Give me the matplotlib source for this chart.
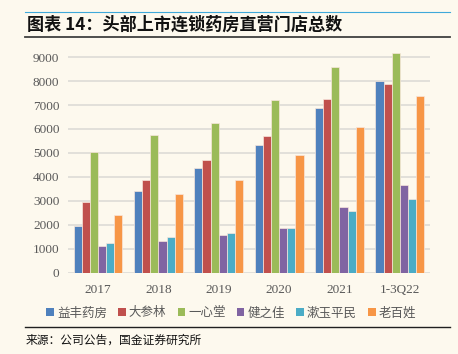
import matplotlib.pyplot as plt
import numpy as np
from matplotlib.patches import Patch
from matplotlib.lines import Line2D

plt.rcParams['font.family'] = ['Noto Sans CJK SC', 'DejaVu Sans']

# 数据
years = ['2017', '2018', '2019', '2020', '2021', '1-3Q22']
companies = ['益丰药房', '大参林', '一心堂', '健之佳', '漱玉平民', '老百姓']
yifeng = [1970, 3430, 4390, 5350, 6860, 8010]
dashenlin = [2970, 3890, 4690, 5710, 7260, 7880]
yixintang = [5040, 5750, 6260, 7220, 8570, 9180]
jianzhijia = [1110, 1330, 1570, 1880, 2740, 3680]
shuyu = [1260, 1510, 1680, 1880, 2580, 3080]
laobaixing = [2430, 3290, 3890, 4900, 6100, 7360]
series = [yifeng, dashenlin, yixintang, jianzhijia, shuyu, laobaixing]
colors = ['#4F81BD', '#C0504D', '#9BBB59', '#8064A2', '#4BACC6', '#F79646']

bg = '#FDF9EE'
fig = plt.figure(figsize=(4.58, 3.54), dpi=100, facecolor=bg)
ax = fig.add_axes([0.148, 0.229, 0.791, 0.637], facecolor=bg)

x = np.arange(len(years))
w = 0.135
for i, (vals, c) in enumerate(zip(series, colors)):
    ax.bar(x + (i - 2.5) * w, vals, width=w, color=c,
           edgecolor='#F8E6DC', linewidth=0.5, label=companies[i], zorder=3)

ax.set_ylim(0, 9400)
ax.set_xlim(-0.5, len(years) - 0.5)
ax.set_yticks(range(0, 9001, 1000))
ax.yaxis.grid(True, color='#E2E0DA', linewidth=1.4, zorder=0)
for s in ax.spines.values():
    s.set_visible(False)
ax.axhline(0, color='#E2E0DA', linewidth=1.4, zorder=2)
ax.tick_params(length=0, pad=6)
ax.set_xticks(x)
ax.set_xticklabels(years)
for lab in ax.get_xticklabels() + ax.get_yticklabels():
    lab.set_family('Liberation Serif')
    lab.set_fontsize(9.5)
    lab.set_color('#595959')
ax.tick_params(axis='x', pad=8)

handles = [Patch(facecolor=c, edgecolor='none') for c in colors]
leg = fig.legend(handles, companies, loc='center', bbox_to_anchor=(0.505, 0.116),
                 ncol=6, frameon=False, handlelength=0.6, handleheight=0.6,
                 handletextpad=0.25, columnspacing=0.9, fontsize=9.0)
for t in leg.get_texts():
    t.set_color('#595959')

# 标题与线条
fig.add_artist(Line2D([0.055, 0.983], [1 - 12 / 354] * 2, color='#3FA9DA', linewidth=0.8))
fig.add_artist(Line2D([0.055, 0.983], [1 - 37 / 354] * 2, color='#404040', linewidth=1.3))
fig.add_artist(Line2D([0.055, 0.983], [1 - 327 / 354] * 2, color='#202020', linewidth=1.0))
fig.text(0.058, 1 - 25 / 354, '图表 14：头部上市连锁药房直营门店总数', fontsize=12.3,
         fontweight='bold', va='center', ha='left', color='#111111')
fig.text(0.055, 1 - 340 / 354, '来源：公司公告，国金证券研究所', fontsize=8.5,
         va='center', ha='left', color='#111111')

plt.savefig('out.png', dpi=100, facecolor=bg)
